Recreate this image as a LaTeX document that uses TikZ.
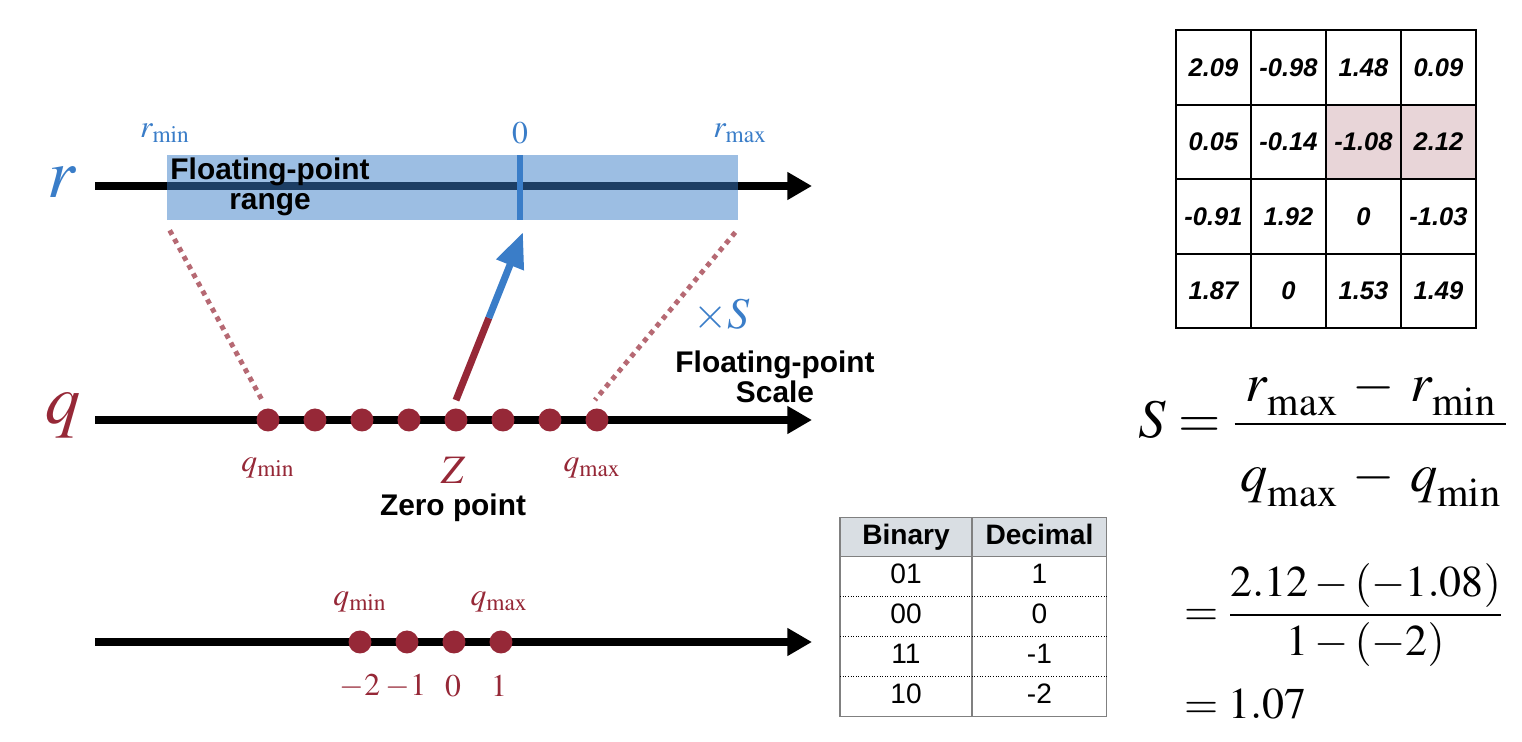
\documentclass[tikz,border=0pt]{standalone}
\usepackage{mathptmx}
\usepackage[no-math]{fontspec}
\newfontfamily\helv{Liberation Sans}
\usetikzlibrary{positioning,calc,arrows.meta}

\definecolor{fpblue}{RGB}{58,125,200}
\definecolor{qred}{RGB}{150,40,55}
\definecolor{cellpink}{RGB}{232,213,216}
\definecolor{headgray}{RGB}{217,222,227}

\newcommand\fsub[1]{\lower0.27em\hbox{\fontsize{23}{26}\selectfont$\mathrm{#1}$}}

\tikzset{axis/.style={line width=4pt,-{Triangle[length=14pt,width=15pt]}}}
\tikzset{qdot/.style={circle,fill=qred,inner sep=0,minimum size=0.46cm}}
\tikzset{bold/.style={font=\helv\bfseries\fontsize{17}{17}\selectfont}}
\tikzset{mlabel/.style={font=\fontsize{18}{20}\selectfont}}
\tikzset{dotline/.style={qred!70,line width=2.8pt,dash pattern=on 2.8pt off 2.8pt}}
\tikzset{cell/.style={draw,line width=1pt,outer sep=0,minimum width=1.5cm,minimum height=1.49cm,font=\helv\bfseries\itshape\fontsize{14.5}{17}\selectfont}}
\tikzset{tcell/.style={outer sep=0,inner sep=0,minimum height=0.796cm,text height=11.5pt,text depth=3.5pt,font=\helv\fontsize{16}{18}\selectfont}}

\begin{document}
\begin{tikzpicture}[x=0.02cm,y=-0.02cm]
\useasboundingbox (0,0) rectangle (1522,742);

% real axis
\node[fpblue,font=\fontsize{40}{44}\selectfont] (rlab) at (62,182) {$r$};
\coordinate (r0) at (95,186);
\coordinate (r1) at (812,186);
\draw[axis] (r0) -- (r1);
\node[fill=fpblue,fill opacity=0.5,inner sep=0,minimum width=11.42cm,minimum height=1.3cm] (range) at (452.5,187.5) {};
\node[fill=fpblue,inner sep=0,minimum width=0.12cm,minimum height=1.3cm] (zero) at (520,187.5) {};
\node[bold,align=center] (rangetext) at (270,187) {Floating-point\\range};
\node[fpblue,mlabel] (rmin) at (165,133) {$r_{\min}$};
\node[fpblue,mlabel] (zerolab) at (520,133) {$0$};
\node[fpblue,mlabel] (rmax) at (740,133) {$r_{\max}$};

% quantized axis
\node[qred,font=\fontsize{40}{44}\selectfont] (qlab) at (63,416) {$q$};
\coordinate (q0) at (95,420);
\coordinate (q9) at (812,420);
\draw[axis] (q0) -- (q9);
\node[qdot] (q1) at (268,420) {};
\node[qdot,right=0.466cm of q1] (q2) {};
\node[qdot,right=0.466cm of q2] (q3) {};
\node[qdot,right=0.466cm of q3] (q4) {};
\node[qdot,right=0.466cm of q4] (q5) {};
\node[qdot,right=0.466cm of q5] (q6) {};
\node[qdot,right=0.466cm of q6] (q7) {};
\node[qdot,right=0.466cm of q7] (q8) {};
\node[qred,mlabel] (qmin) at (268,468) {$q_{\min}$};
\node[qred,mlabel] (qmax) at (592,468) {$q_{\max}$};
\node[qred,font=\fontsize{23}{26}\selectfont] (zlab) at (453,470) {$Z$};
\node[bold] (zerotext) at (453,508) {Zero point};

% mapping
\draw[dotline] ($(range.south west)+(3,10)$) -- ($(q1)+(-6,-20)$);
\draw[dotline] ($(range.south east)+(-3,12)$) -- ($(q8)+(-2,-20)$);
\coordinate (zbase) at ($(q5.north)+(0,-8)$);
\coordinate (ztip) at ($(zero.south)+(3,12)$);
\draw[qred,line width=4pt] (zbase) -- ($(zbase)!0.49!(ztip)$) coordinate (zmid);
\draw[fpblue,line width=4pt,-{Triangle[length=20pt,width=16pt]}] (zmid) -- (ztip);
\node[fpblue,font=\fontsize{25}{28}\selectfont] (times) at (722,316) {$\times S$};
\node[bold,align=center] (scaletext) at (775,377) {Floating-point\\Scale};

% 2-bit axis
\coordinate (b0) at (95,642);
\coordinate (b9) at (812,642);
\draw[axis] (b0) -- (b9);
\node[qdot] (p1) at (360,642) {};
\node[qdot,right=0.466cm of p1] (p2) {};
\node[qdot,right=0.466cm of p2] (p3) {};
\node[qdot,right=0.466cm of p3] (p4) {};
\node[qred,mlabel] (pmin) at (360,602) {$q_{\min}$};
\node[qred,mlabel] (pmax) at (499,602) {$q_{\max}$};
\node[qred,mlabel] (n1) at (360,686) {$-2$};
\node[qred,mlabel] (n2) at (406,686) {$-1$};
\node[qred,mlabel] (n3) at (453,686) {$0$};
\node[qred,mlabel] (n4) at (499,686) {$1$};

% table
\node[tcell,fill=headgray,minimum width=2.64cm,font=\helv\bfseries\fontsize{16}{18}\selectfont] (t0) at (906,537) {Binary};
\node[tcell,fill=headgray,minimum width=2.7cm,font=\helv\bfseries\fontsize{16}{18}\selectfont,right=0pt of t0] (d0) {Decimal};
\node[tcell,minimum width=2.64cm,below=0pt of t0] (t1) {01};
\node[tcell,minimum width=2.7cm,below=0pt of d0] (d1) {1};
\node[tcell,minimum width=2.64cm,below=0pt of t1] (t2) {00};
\node[tcell,minimum width=2.7cm,below=0pt of d1] (d2) {0};
\node[tcell,minimum width=2.64cm,below=0pt of t2] (t3) {11};
\node[tcell,minimum width=2.7cm,below=0pt of d2] (d3) {-1};
\node[tcell,minimum width=2.64cm,below=0pt of t3] (t4) {10};
\node[tcell,minimum width=2.7cm,below=0pt of d3] (d4) {-2};
\draw[gray,line width=0.6pt] (t0.north west) rectangle (d4.south east);
\draw[gray,line width=0.6pt] (d0.north west) -- (d4.south west);
\draw[gray,line width=0.6pt] (t0.south west) -- (d0.south east);
\draw[densely dotted,line width=0.5pt] (t1.south west) -- (d1.south east);
\draw[densely dotted,line width=0.5pt] (t2.south west) -- (d2.south east);
\draw[densely dotted,line width=0.5pt] (t3.south west) -- (d3.south east);

% matrix
\node[cell] (m11) at (1213.5,67.5) {2.09};
\node[cell,right=0pt of m11] (m12) {-0.98};
\node[cell,right=0pt of m12] (m13) {1.48};
\node[cell,right=0pt of m13] (m14) {0.09};
\node[cell,below=0pt of m11] (m21) {0.05};
\node[cell,right=0pt of m21] (m22) {-0.14};
\node[cell,right=0pt of m22,fill=cellpink] (m23) {-1.08};
\node[cell,right=0pt of m23,fill=cellpink] (m24) {2.12};
\node[cell,below=0pt of m21] (m31) {-0.91};
\node[cell,right=0pt of m31] (m32) {1.92};
\node[cell,right=0pt of m32] (m33) {0};
\node[cell,right=0pt of m33] (m34) {-1.03};
\node[cell,below=0pt of m31] (m41) {1.87};
\node[cell,right=0pt of m41] (m42) {0};
\node[cell,right=0pt of m42] (m43) {1.53};
\node[cell,right=0pt of m43] (m44) {1.49};

% scale formula
\node[anchor=base west,inner sep=0,font=\fontsize{31}{36}\selectfont] (sform) at (1138,438) {$\displaystyle S=\frac{r\fsub{max}\:-\:r\fsub{min}}{\rule{0pt}{1.1em}\mkern2mu q\fsub{max}\:-\:q\fsub{min}\mkern2mu}$};
\node[anchor=west,font=\fontsize{25}{30}\selectfont] (sval) at (1178,615) {$\displaystyle =\frac{2.12-(-1.08)}{1-(-2)}$};
\node[anchor=west,font=\fontsize{25}{30}\selectfont] (sres) at (1178,704) {$=1.07$};
\end{tikzpicture}
\end{document}
